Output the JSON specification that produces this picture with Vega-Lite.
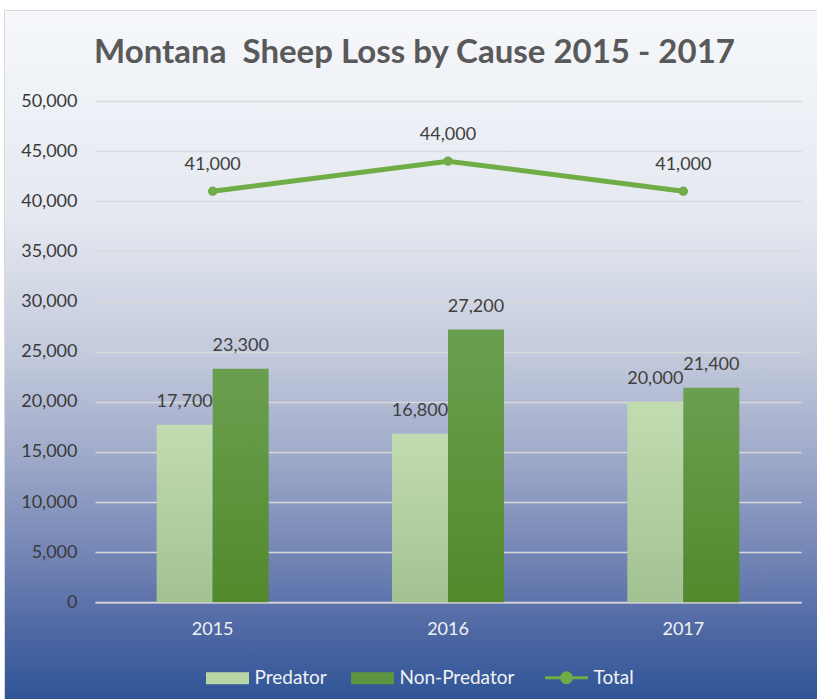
{
  "$schema": "https://vega.github.io/schema/vega-lite/v6.json",
  "width": 813,
  "height": 689,
  "autosize": {"type": "none"},
  "padding": {"left": 4, "top": 10, "right": 0, "bottom": 0},
  "background": "white",
  "title": {
    "text": "Montana\u00a0 Sheep Loss by Cause 2015 - 2017",
    "font": "Lato",
    "fontSize": 33,
    "fontWeight": "bold",
    "color": "#595959",
    "anchor": "middle",
    "frame": "group",
    "dx": 4,
    "offset": -60
  },
  "config": {
    "font": "Lato",
    "view": {
      "fill": {
        "gradient": "linear",
        "x1": 0, "y1": 0, "x2": 0, "y2": 1,
        "stops": [
          {"offset": 0, "color": "#f6f8fb"},
          {"offset": 0.3, "color": "#e4e8f0"},
          {"offset": 0.5, "color": "#c3cadc"},
          {"offset": 0.65, "color": "#9ea9c9"},
          {"offset": 0.8, "color": "#7083b4"},
          {"offset": 0.9, "color": "#4f68a4"},
          {"offset": 1, "color": "#2f5597"}
        ]
      },
      "stroke": "#d9d9d9",
      "strokeWidth": 1
    }
  },
  "data": {
    "values": [
      {"year": "2015", "cause": "Predator", "value": 17700},
      {"year": "2015", "cause": "Non-Predator", "value": 23300},
      {"year": "2015", "cause": "Total", "value": 41000},
      {"year": "2016", "cause": "Predator", "value": 16800},
      {"year": "2016", "cause": "Non-Predator", "value": 27200},
      {"year": "2016", "cause": "Total", "value": 44000},
      {"year": "2017", "cause": "Predator", "value": 20000},
      {"year": "2017", "cause": "Non-Predator", "value": 21400},
      {"year": "2017", "cause": "Total", "value": 41000}
    ]
  },
  "encoding": {
    "x": {
      "field": "year",
      "type": "nominal",
      "scale": {"range": [91, 797], "paddingInner": 0.524, "paddingOuter": 0.262},
      "axis": {
        "title": null,
        "orient": "bottom",
        "offset": -96.7,
        "labelAngle": 0,
        "ticks": false,
        "labelPadding": 18,
        "labelFont": "Lato",
        "labelFontSize": 18,
        "labelColor": "#f2f2f2",
        "domainColor": "#d9d9d9",
        "domainWidth": 1.3,
        "grid": false
      }
    },
    "y": {
      "field": "value",
      "type": "quantitative",
      "scale": {"domain": [0, 50000], "range": [592.3, 91], "nice": false, "zero": true},
      "axis": {
        "title": null,
        "orient": "left",
        "offset": -91,
        "values": [0, 5000, 10000, 15000, 20000, 25000, 30000, 35000, 40000, 45000, 50000],
        "format": ",.0f",
        "ticks": false,
        "domain": false,
        "labelPadding": 18,
        "labelFont": "Lato",
        "labelFontSize": 18,
        "labelColor": "#3a3a3a",
        "grid": true,
        "gridColor": "#d9d9d9",
        "gridWidth": 1.3
      }
    }
  },
  "layer": [
    {
      "transform": [{"filter": "datum.cause === 'Predator'"}],
      "mark": {
        "type": "bar",
        "color": {
          "gradient": "linear",
          "x1": 0, "y1": 0, "x2": 0, "y2": 1,
          "stops": [
            {"offset": 0, "color": "#c2dcb1"},
            {"offset": 1, "color": "#a2c292"}
          ]
        }
      },
      "encoding": {
        "xOffset": {"field": "cause", "type": "nominal", "scale": {"domain": ["Predator", "Non-Predator"], "paddingInner": 0, "paddingOuter": 0}}
      }
    },
    {
      "transform": [{"filter": "datum.cause === 'Non-Predator'"}],
      "mark": {
        "type": "bar",
        "color": {
          "gradient": "linear",
          "x1": 0, "y1": 0, "x2": 0, "y2": 1,
          "stops": [
            {"offset": 0, "color": "#6b9f50"},
            {"offset": 1, "color": "#52892b"}
          ]
        }
      },
      "encoding": {
        "xOffset": {"field": "cause", "type": "nominal", "scale": {"domain": ["Predator", "Non-Predator"], "paddingInner": 0, "paddingOuter": 0}}
      }
    },
    {
      "transform": [{"filter": "datum.cause !== 'Total'"}],
      "mark": {"type": "text", "baseline": "alphabetic", "dy": -18, "font": "Lato", "fontSize": 18, "color": "#404040"},
      "encoding": {
        "xOffset": {"field": "cause", "type": "nominal", "scale": {"domain": ["Predator", "Non-Predator"], "paddingInner": 0, "paddingOuter": 0}},
        "text": {"field": "value", "type": "quantitative", "format": ","}
      }
    },
    {
      "transform": [{"filter": "datum.cause === 'Total'"}],
      "mark": {"type": "line", "strokeWidth": 5, "point": {"filled": true, "size": 90, "opacity": 1}},
      "encoding": {
        "color": {
          "field": "cause",
          "type": "nominal",
          "scale": {"domain": ["Predator", "Non-Predator", "Total"], "range": ["#b8d5a6", "#5e9540", "#70ad47"]},
          "legend": {
            "orient": "none",
            "legendX": 214,
            "legendY": 658,
            "direction": "horizontal",
            "title": null,
            "labelFont": "Lato",
            "labelFontSize": 19,
            "labelColor": "#f2f2f2",
            "symbolSize": 1849,
            "labelOffset": 17.5,
            "columnPadding": 24,
            "symbolType": "M-1,-0.28H1V0.28H-1Z",
            "encode": {
              "symbols": {
                "update": {
                  "shape": {"signal": "datum.value === 'Total' ? 'M-1,0H1M-0.23,0A0.23,0.23,0,1,1,0.23,0A0.23,0.23,0,1,1,-0.23,0Z' : 'M-1,-0.28H1V0.28H-1Z'"},
                  "fill": {"scale": "color", "field": "value"},
                  "stroke": {"scale": "color", "field": "value"},
                  "strokeWidth": {"signal": "datum.value === 'Total' ? 3 : 0"},
                  "opacity": {"value": 1},
                  "fillOpacity": {"value": 1}
                }
              }
            }
          }
        }
      }
    },
    {
      "transform": [{"filter": "datum.cause === 'Total'"}],
      "mark": {"type": "text", "baseline": "alphabetic", "dy": -21, "font": "Lato", "fontSize": 18, "color": "#404040"},
      "encoding": {
        "text": {"field": "value", "type": "quantitative", "format": ","}
      }
    }
  ]
}
